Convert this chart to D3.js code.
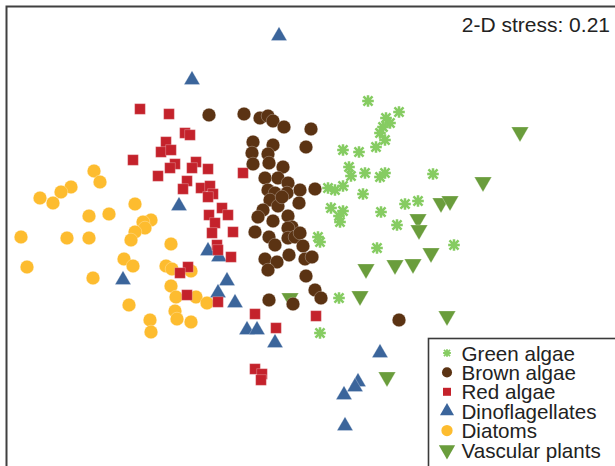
<!DOCTYPE html>
<html>
<head>
<meta charset="utf-8">
<script src="https://cdn.jsdelivr.net/npm/d3@7"></script>
<style>
  html, body { margin: 0; padding: 0; background: #fff; }
  svg { display: block; font-family: "Liberation Sans", Arial, Helvetica, sans-serif; }
</style>
</head>
<body>
<svg id="chart" width="615" height="466"></svg>
<script>
// NMDS ordination scores (axis 1, axis 2) per taxonomic group
const greenAlgae = [
  [0.61, 1.45], [0.92, 1.34], [0.79, 1.28], [0.83, 1.23], [0.76, 1.19], [0.73, 1.13],
  [0.78, 1.06], [0.69, 0.99], [0.36, 0.96], [0.52, 0.94], [0.42, 0.79], [0.44, 0.70],
  [0.58, 0.73], [0.73, 0.69], [0.78, 0.73], [1.26, 0.72], [0.36, 0.60], [0.21, 0.58],
  [0.28, 0.56], [0.56, 0.52], [0.24, 0.38], [0.36, 0.35], [0.33, 0.24], [0.32, 0.30],
  [0.74, 0.34], [0.98, 0.42], [1.11, 0.45], [0.90, 0.21], [0.11, 0.09], [0.13, 0.04],
  [0.70, -0.02], [1.47, 0.01], [0.32, -0.52], [0.13, -0.87]
];
const brownAlgae = [
  [-0.98, 1.31], [-0.63, 1.32], [-0.47, 1.28], [-0.39, 1.30], [-0.34, 1.25], [-0.23, 1.19],
  [0.04, 1.17], [-0.54, 1.04], [-0.34, 1.01], [-0.01, 0.99], [-0.55, 0.93], [-0.39, 0.92],
  [-0.54, 0.82], [-0.38, 0.83], [-0.24, 0.79], [-0.42, 0.68], [-0.29, 0.68], [-0.19, 0.63],
  [-0.07, 0.56], [0.08, 0.57], [-0.39, 0.56], [-0.32, 0.53], [-0.20, 0.53], [-0.37, 0.46],
  [-0.29, 0.40], [-0.08, 0.43], [-0.25, 0.49], [-0.44, 0.36], [-0.49, 0.29], [-0.34, 0.25],
  [-0.19, 0.30], [-0.15, 0.19], [-0.19, 0.18], [-0.52, 0.14], [-0.38, 0.09], [-0.19, 0.08],
  [-0.12, 0.09], [-0.07, 0.13], [-0.32, 0.01], [-0.04, 0.00], [-0.42, -0.13], [-0.30, -0.16],
  [-0.18, -0.09], [-0.02, -0.13], [0.05, -0.11], [-0.39, -0.24], [-0.01, -0.30], [0.08, -0.44],
  [0.14, -0.52], [-0.38, -0.54], [-0.14, -0.58], [0.92, -0.74]
];
const redAlgae = [
  [-1.67, 1.37], [-1.38, 1.32], [-1.22, 1.13], [-1.17, 1.11], [-1.41, 1.04], [-1.46, 0.94],
  [-1.36, 0.96], [-1.74, 0.86], [-1.32, 0.82], [-1.37, 0.78], [-1.49, 0.70], [-1.11, 0.84],
  [-1.15, 0.78], [-0.99, 0.77], [-0.64, 0.73], [-1.20, 0.65], [-1.24, 0.57], [-1.06, 0.58],
  [-0.97, 0.60], [-0.94, 0.52], [-0.99, 0.49], [-0.85, 0.38], [-0.79, 0.31], [-0.98, 0.31],
  [-0.92, 0.23], [-0.74, 0.14], [-0.95, 0.13], [-0.90, 0.01], [-0.89, -0.04], [-0.76, -0.11],
  [-1.19, -0.21], [-1.27, -0.27], [-1.20, -0.49], [-0.89, -0.56], [-0.52, -0.68], [-0.31, -0.82],
  [0.09, -0.70], [-0.52, -1.23], [-0.45, -1.28], [-0.46, -1.34]
];
const dinoflagellates = [
  [-0.28, 2.10], [-1.15, 1.66], [-1.28, 0.40], [-1.84, -0.34], [-0.99, -0.05], [-0.88, -0.11],
  [-0.80, -0.35], [-0.89, -0.47], [-0.72, -0.57], [-0.60, -0.84], [-0.50, -0.84], [-0.32, -0.97],
  [0.73, -1.07], [0.51, -1.36], [0.48, -1.41], [0.37, -1.49], [0.38, -1.80]
];
const diatoms = [
  [-2.13, 0.75], [-2.07, 0.64], [-2.36, 0.59], [-2.46, 0.54], [-2.67, 0.48], [-2.54, 0.43],
  [-1.72, 0.42], [-2.18, 0.30], [-1.98, 0.32], [-1.56, 0.26], [-1.64, 0.24], [-1.62, 0.18],
  [-1.72, 0.14], [-1.76, 0.06], [-2.86, 0.09], [-2.40, 0.08], [-2.18, 0.08], [-1.36, 0.02],
  [-1.83, -0.13], [-1.74, -0.20], [-2.80, -0.21], [-1.41, -0.20], [-1.35, -0.23], [-1.16, -0.25],
  [-2.14, -0.32], [-1.36, -0.40], [-1.31, -0.51], [-1.11, -0.51], [-1.00, -0.57], [-1.78, -0.59],
  [-1.32, -0.65], [-1.30, -0.73], [-1.16, -0.76], [-1.57, -0.74], [-1.56, -0.86]
];
const vascularPlants = [
  [2.13, 1.14], [1.76, 0.64], [1.34, 0.43], [1.43, 0.45], [1.11, 0.27], [1.12, 0.16],
  [1.24, -0.07], [1.06, -0.18], [0.88, -0.19], [0.59, -0.23], [0.53, -0.50], [-0.17, -0.52],
  [1.40, -0.70], [0.80, -1.31]
];
const groupNames = ["Green algae", "Brown algae", "Red algae", "Dinoflagellates", "Diatoms", "Vascular plants"];
const stressLabel = "2-D stress: 0.21";

const W = 615, H = 466;
const svg = d3.select("#chart");

const x = d3.scaleLinear().domain([-3.0, 3.08]).range([7, 615]);
const y = d3.scaleLinear().domain([2.4, -2.2]).range([6, 466]);

// asterisk marker: an X crossed with a +
const asterisk = {
  draw(ctx, size) {
    const r = Math.sqrt(size) / 2;
    const d = r * 0.78;
    ctx.moveTo(-d, -d); ctx.lineTo(d, d);
    ctx.moveTo(-d, d); ctx.lineTo(d, -d);
    ctx.moveTo(0, -r); ctx.lineTo(0, r);
    ctx.moveTo(-r, 0); ctx.lineTo(r, 0);
  }
};

const groups = {
  "Green algae":     { data: greenAlgae,      type: asterisk,           size: 135, color: "#86cc62", stroke: true, rot: 0 },
  "Brown algae":     { data: brownAlgae,      type: d3.symbolCircle,    size: 145, color: "#5b3313", rot: 0 },
  "Red algae":       { data: redAlgae,        type: d3.symbolSquare,    size: 114, color: "#c4222b", rot: 0 },
  "Dinoflagellates": { data: dinoflagellates, type: d3.symbolTriangle,  size: 110, color: "#3b659b", rot: 0 },
  "Diatoms":         { data: diatoms,         type: d3.symbolCircle,    size: 145, color: "#fdbc2f", rot: 0 },
  "Vascular plants": { data: vascularPlants,  type: d3.symbolTriangle,  size: 130, color: "#6a9d3c", rot: 180 }
};

// frame (open towards the right and bottom edges)
svg.append("rect")
  .attr("x", 6.5).attr("y", 6.5)
  .attr("width", W + 20).attr("height", H + 20)
  .attr("fill", "#fff").attr("stroke", "#404040").attr("stroke-width", 2);

const drawOrder = ["Vascular plants", "Diatoms", "Dinoflagellates", "Red algae", "Brown algae", "Green algae"];
drawOrder.forEach(name => {
  const g = groups[name];
  const sym = d3.symbol().type(g.type).size(g.size);
  svg.append("g").attr("class", "series")
    .selectAll("path").data(g.data).join("path")
    .attr("d", sym)
    .attr("transform", d => `translate(${x(d[0])},${y(d[1])}) rotate(${g.rot})`)
    .attr("fill", g.stroke ? "none" : g.color)
    .attr("stroke", g.stroke ? g.color : "rgba(255,255,255,0.45)")
    .attr("stroke-width", g.stroke ? 2.5 : 0.6);
});

// stress annotation
svg.append("text")
  .attr("x", 610).attr("y", 32)
  .attr("text-anchor", "end")
  .attr("font-size", 21)
  .attr("fill", "#222")
  .text(stressLabel);

// legend
const legend = svg.append("g").attr("transform", "translate(428.5,338.5)");
legend.append("rect")
  .attr("width", 200).attr("height", 140)
  .attr("fill", "#fff").attr("stroke", "#3a3a3a").attr("stroke-width", 1.6);

const legendSizes = { "Green algae": 60, "Brown algae": 80, "Red algae": 64, "Dinoflagellates": 85, "Diatoms": 100, "Vascular plants": 115 };
groupNames.forEach((name, i) => {
  const g = groups[name];
  const row = legend.append("g").attr("transform", `translate(0,${14.5 + i * 19.4})`);
  row.append("path")
    .attr("d", d3.symbol().type(g.type).size(legendSizes[name]))
    .attr("transform", `translate(18.5,0) rotate(${g.rot})`)
    .attr("fill", g.stroke ? "none" : g.color)
    .attr("stroke", g.stroke ? g.color : "none")
    .attr("stroke-width", g.stroke ? 1.8 : 0);
  row.append("text")
    .attr("x", 33).attr("y", 7.5)
    .attr("font-size", 20.6)
    .attr("fill", "#222")
    .text(name);
});
</script>
</body>
</html>
